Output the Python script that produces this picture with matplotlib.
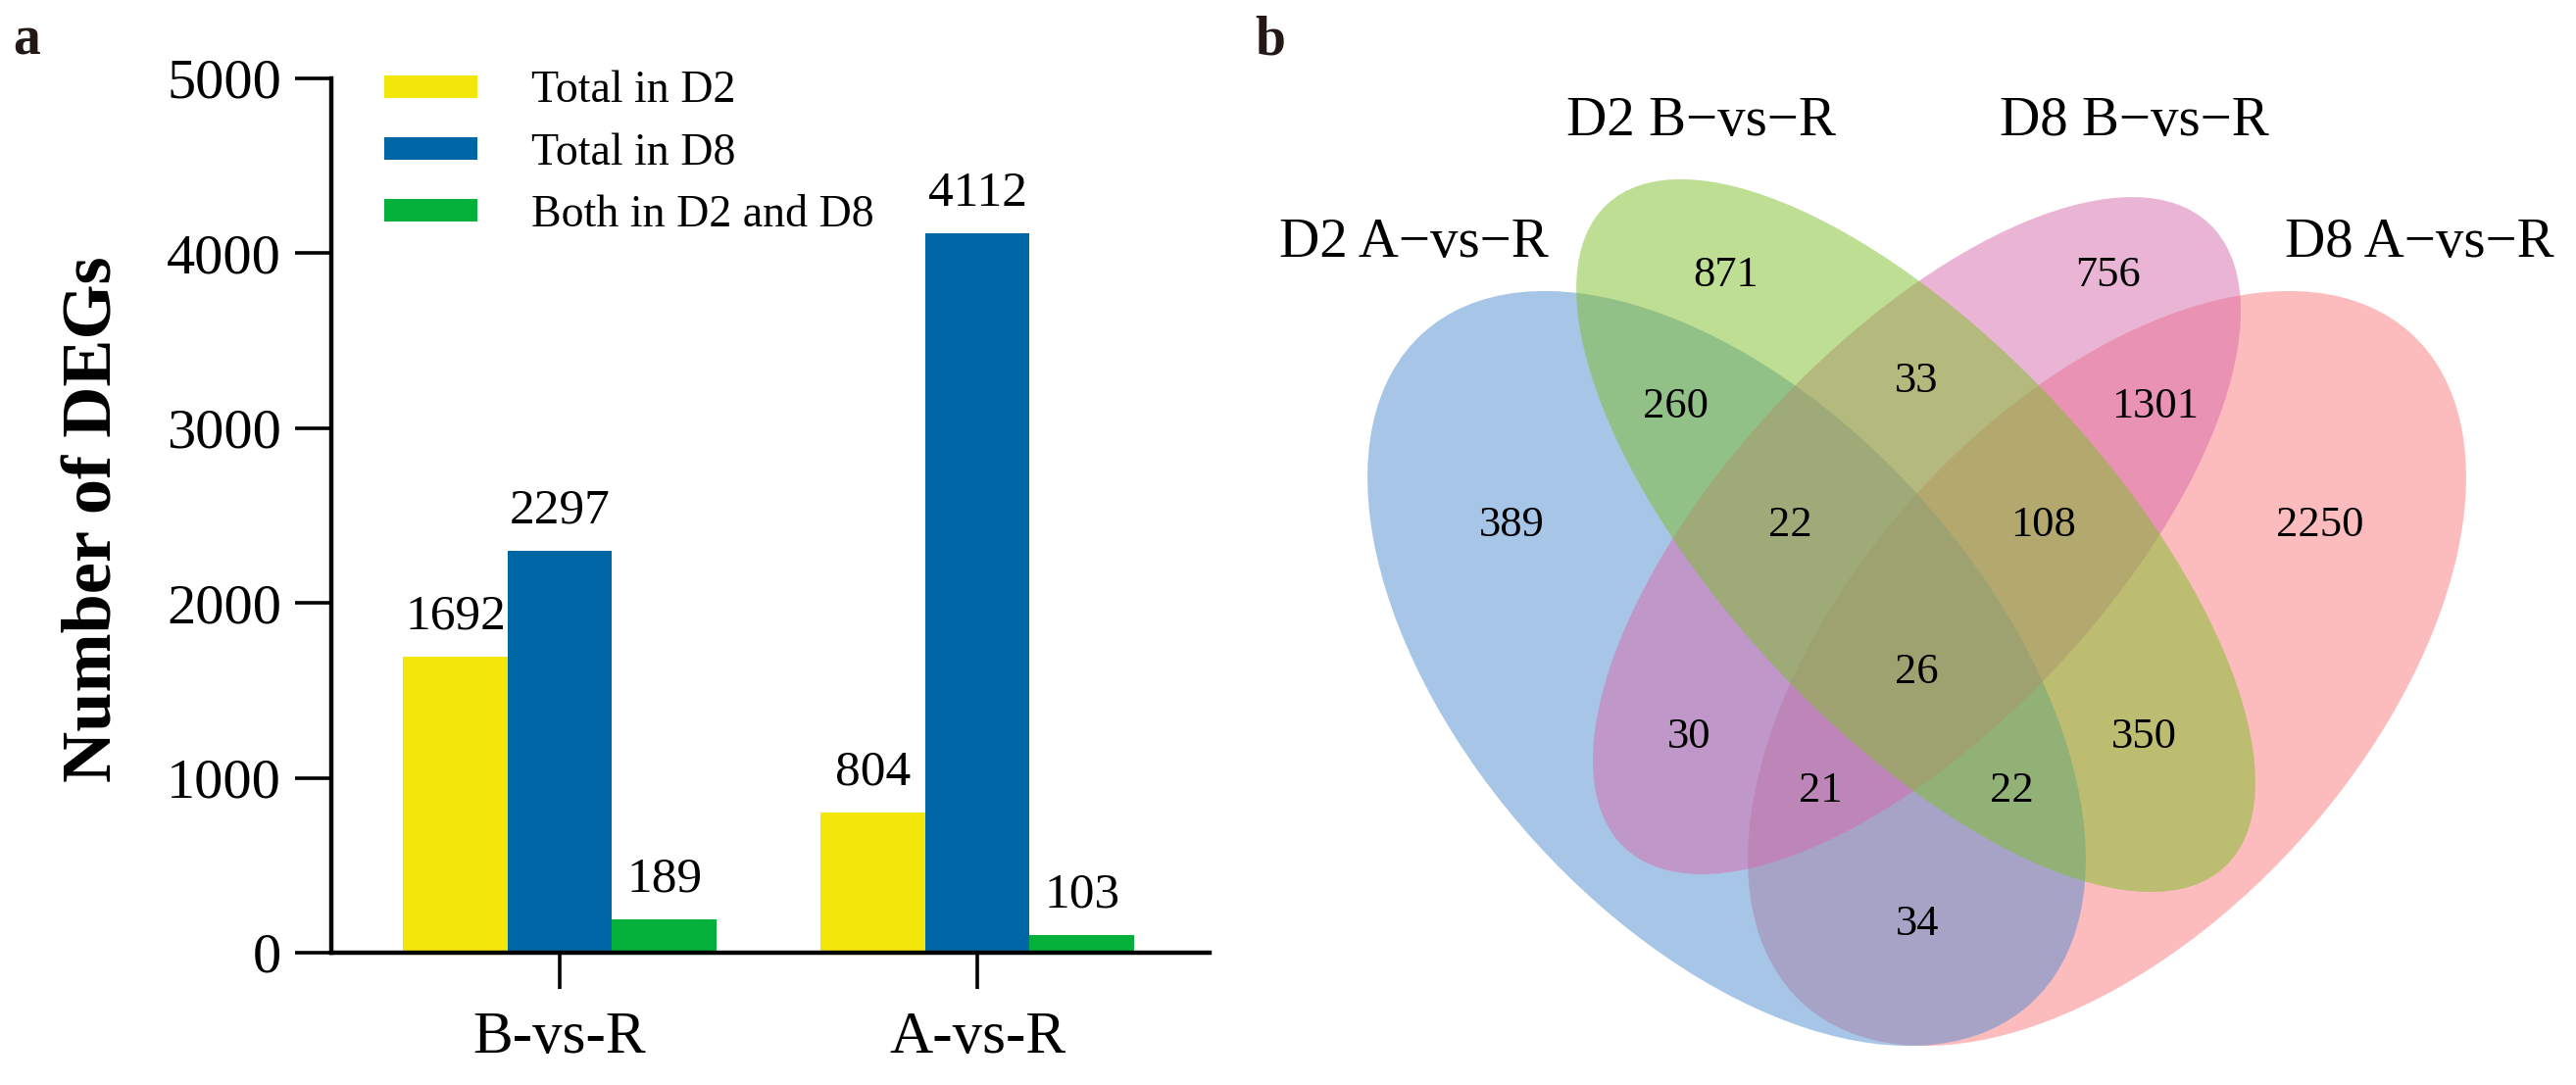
import matplotlib
matplotlib.use("Agg")
import matplotlib.pyplot as plt
from matplotlib.patches import Ellipse, Patch
import numpy as np

# ---------------- data ----------------
groups = ["B-vs-R", "A-vs-R"]
series_names = ["Total in D2", "Total in D8", "Both in D2 and D8"]
total_d2 = [1692, 804]
total_d8 = [2297, 4112]
both_d2_d8 = [189, 103]
y_ticks = [0, 1000, 2000, 3000, 4000, 5000]

venn_sets = ["D2 A\u2212vs\u2212R", "D2 B\u2212vs\u2212R", "D8 B\u2212vs\u2212R", "D8 A\u2212vs\u2212R"]
# membership key: (D2 A, D2 B, D8 B, D8 A)
venn_keys = ["1000", "0100", "0010", "0001", "1100", "0110", "0011", "1010",
             "0101", "1001", "1110", "0111", "1011", "1101", "1111"]
venn_counts = [389, 871, 756, 2250, 260, 33, 1301, 30, 350, 34, 22, 108, 21, 22, 26]

# ---------------- style / layout ----------------
W, H = 2628, 1107
plt.rcParams['font.family'] = ['Liberation Serif', 'DejaVu Serif']
bar_colors = ['#F2E60B', '#0067A6', '#02B03A']
venn_colors = ['#518DD1', '#7FBF29', '#D76BAB', '#FB797D']

fig = plt.figure(figsize=(W / 100, H / 100), dpi=100)

# ---- panel a ----
ax_l, ax_r, ax_t, ax_b = 338, 1234, 80, 972
ax = fig.add_axes([ax_l / W, 1 - ax_b / H, (ax_r - ax_l) / W, (ax_b - ax_t) / H])
x = np.arange(len(groups))
bw = 0.25
series = [total_d2, total_d8, both_d2_d8]
for i, (vals, name, col) in enumerate(zip(series, series_names, bar_colors)):
    xs = x + (i - 1) * bw
    ax.bar(xs, vals, width=bw, color=col, linewidth=0, label=name)
    for xv, v in zip(xs, vals):
        ax.annotate(str(v), (xv, v), xytext=(0, 20.5), textcoords='offset points',
                    ha='center', va='baseline', fontsize=37)
ax.set_xlim(-0.547, 1.556)
ax.set_ylim(0, 5000)
ax.set_yticks(y_ticks)
ax.set_xticks(x)
ax.set_xticklabels(groups)
for s in ['top', 'right']:
    ax.spines[s].set_visible(False)
for s in ['left', 'bottom']:
    ax.spines[s].set_linewidth(3.2)
ax.tick_params(axis='both', length=26.6, width=2.6, direction='out', labelsize=42)
ax.tick_params(axis='x', labelsize=44, pad=16)
ax.tick_params(axis='y', pad=10)

handles = [Patch(facecolor=c, edgecolor='none') for c in bar_colors]
ax.legend(handles, series_names, loc='upper left',
          bbox_to_anchor=(392 / W, 1 - 72 / H), bbox_transform=fig.transFigure,
          frameon=False, borderpad=0, borderaxespad=0, handlelength=2.07,
          handleheight=0.39, handletextpad=1.2, labelspacing=0.45, fontsize=33)

fig.text(96 / W, 1 - 530 / H, "Number of DEGs", rotation=90, ha='center',
         va='center', fontsize=52, fontweight='bold')
fig.text(13 / W, 1 - 55 / H, "a", ha='left', va='baseline', fontsize=40,
         fontweight='bold', color='#231815')
fig.text(1280 / W, 1 - 55 / H, "b", ha='left', va='baseline', fontsize=40,
         fontweight='bold', color='#231815')

# ---- panel b (Venn, pixel-space axes) ----
axv = fig.add_axes([0, 0, 1, 1], zorder=-1)
axv.set_xlim(0, W)
axv.set_ylim(H, 0)
axv.axis('off')

# ellipse geometry: (cx, cy, semi-major, semi-minor, angle) per set
ell_geom = [(1761.5, 682, 461.6, 263.6, 47.8),
            (1954.5, 546.5, 462.1, 196.6, 47.0),
            (1955.5, 546.5, 436.2, 195.7, -46.9),
            (2149.5, 682, 461.6, 263.6, -47.8)]
draw_order = [3, 0, 2, 1]
for k, idx in enumerate(draw_order):
    cx, cy, a, b, ang = ell_geom[idx]
    axv.add_patch(Ellipse((cx, cy), 2 * a, 2 * b, angle=ang,
                          facecolor=venn_colors[idx], alpha=0.5,
                          edgecolor='none', zorder=1 + k))

set_label_pos = [(1442, 262), (1735, 138), (2177, 138), (2468, 262)]
for name, (px, py) in zip(venn_sets, set_label_pos):
    axv.text(px, py, name, ha='center', va='baseline', fontsize=41, zorder=10)

region_pos = {"1000": (1542, 532), "0100": (1761, 277), "0010": (2150, 277),
              "0001": (2367, 532), "1100": (1710, 411), "0110": (1955, 385),
              "0011": (2199, 411), "1010": (1723, 748), "0101": (2187, 748),
              "1001": (1956, 939), "1110": (1826, 532), "0111": (2085, 532),
              "1011": (1857, 803), "1101": (2052, 803), "1111": (1955, 682)}
num_fs = 32
num_off = 0.338 * num_fs * 100 / 72
for key, cnt in zip(venn_keys, venn_counts):
    px, py = region_pos[key]
    axv.text(px, py + num_off, str(cnt), ha='center', va='baseline',
             fontsize=num_fs, zorder=10)

fig.savefig("out.png", dpi=100, facecolor='white')
